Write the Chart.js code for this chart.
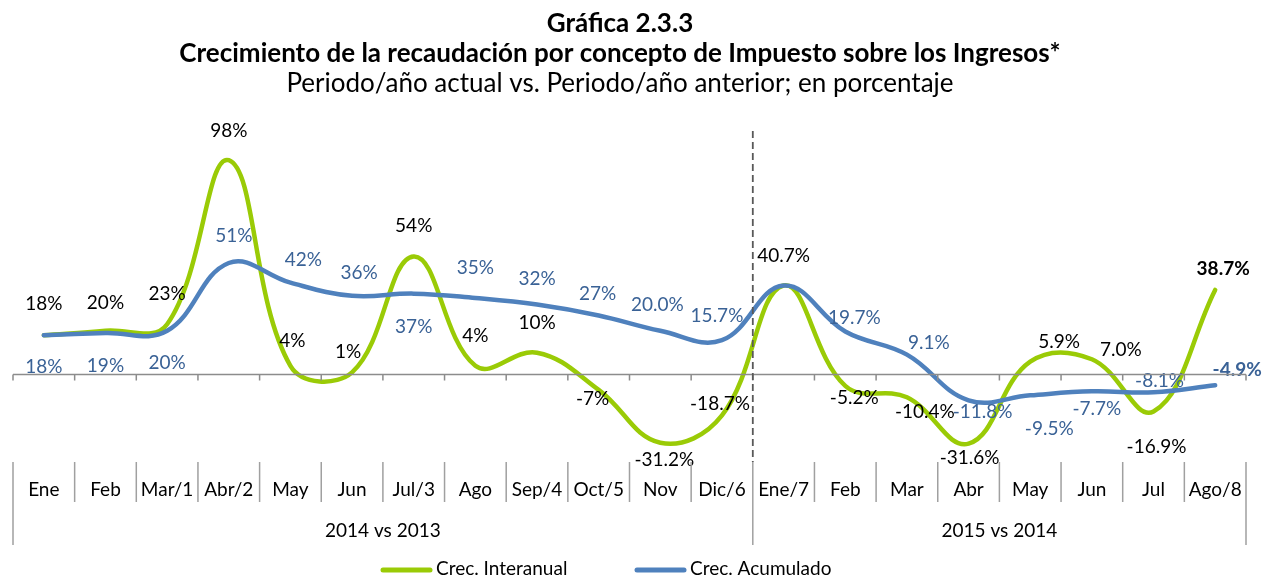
<!DOCTYPE html>
<html>
<head>
<meta charset="utf-8">
<script src="https://cdn.jsdelivr.net/npm/chart.js@4/dist/chart.umd.min.js"></script>
<style>
  html, body { margin: 0; padding: 0; background: #fff; }
  #wrap { width: 1265px; height: 579px; }
</style>
</head>
<body>
<div id="wrap"><canvas id="chart"></canvas></div>
<script>
// Datos de la gráfica
const categories = ['Ene', 'Feb', 'Mar/1', 'Abr/2', 'May', 'Jun', 'Jul/3', 'Ago', 'Sep/4', 'Oct/5', 'Nov', 'Dic/6',
                    'Ene/7', 'Feb', 'Mar', 'Abr', 'May', 'Jun', 'Jul', 'Ago/8'];
const interanual = [18, 20, 23, 98, 4, 1, 54, 4, 10, -7, -31.2, -18.7,
                    40.7, -5.2, -10.4, -31.6, 5.9, 7.0, -16.9, 38.7];
const acumulado = [18, 19, 20, 51, 42, 36, 37, 35, 32, 27, 20.0, 15.7,
                   40.7, 19.7, 9.1, -11.8, -9.5, -7.7, -8.1, -4.9];
// decimales mostrados en cada etiqueta
const decimals = [0, 0, 0, 0, 0, 0, 0, 0, 0, 0, 1, 1, 1, 1, 1, 1, 1, 1, 1, 1];
const groupLabels = ['2014 vs 2013', '2015 vs 2014'];
const groupStart = [0, 12];

const titleLines = ['Gráfica 2.3.3', 'Crecimiento de la recaudación por concepto de Impuesto sobre los Ingresos*'];
const subtitle = 'Periodo/año actual vs. Periodo/año anterior; en porcentaje';

const GREEN = '#9ACB06';
const BLUE = '#4F81BD';
const BLUE_TEXT = '#3A6296';
const FONT = 'Lato, "Open Sans", sans-serif';

// desplazamiento (px) de cada etiqueta respecto a su punto
const greenLabelOffsets = [[0, -31], [0, -28], [0, -30], [0, -29], [2, -25], [-4, -20], [0, -31], [0, -30], [0, -30], [-6, 9],
                           [4, 17], [-2, -12], [0, -30], [9, 12], [18, 15], [1, 14], [29, -20], [29, -9], [3, 35], [8, -21]];
const blueLabelOffsets = [[0, 32], [0, 33], [0, 32], [5, -27], [13, -23], [7, -23], [0, 33], [0, -30], [0, -26], [-1, -22],
                          [-3, -26], [-5, -24], null, [9, -14], [22, -12], [14, 12], [19, 34], [5, 18], [6, -11], [22, -15]];

function fmt(v, i) {
    return v.toFixed(decimals[i]) + '%';
}

const decor = {
    id: 'decor',
    afterDraw(chart) {
        const ctx = chart.ctx;
        const x = chart.scales.x;
        const y = chart.scales.y;
        const area = chart.chartArea;
        const half = (x.getPixelForValue(1) - x.getPixelForValue(0)) / 2;
        const edge = k => x.getPixelForValue(0) - half + k * half * 2;
        const zero = y.getPixelForValue(0);

        ctx.save();

        // titulos
        ctx.fillStyle = '#000';
        ctx.textAlign = 'center';
        ctx.textBaseline = 'alphabetic';
        ctx.font = 'bold 26px ' + FONT;
        ctx.fillText(titleLines[0], 620, 32);
        ctx.fillText(titleLines[1], 620, 62);
        ctx.font = '26px ' + FONT;
        ctx.fillText(subtitle, 620, 92);

        // eje en cero con marcas
        ctx.strokeStyle = '#8C8C8C';
        ctx.lineWidth = 1.5;
        ctx.beginPath();
        ctx.moveTo(edge(0), zero);
        ctx.lineTo(edge(categories.length), zero);
        for (let k = 0; k <= categories.length; k++) {
            ctx.moveTo(edge(k), zero);
            ctx.lineTo(edge(k), zero + 6);
        }
        ctx.stroke();

        // separadores de categorias
        ctx.strokeStyle = '#A0A0A0';
        ctx.beginPath();
        for (let k = 0; k <= categories.length; k++) {
            const long = groupStart.includes(k) || k === categories.length;
            ctx.moveTo(edge(k), area.bottom);
            ctx.lineTo(edge(k), long ? 545 : 502);
        }
        ctx.stroke();

        // linea punteada entre periodos
        ctx.strokeStyle = '#595959';
        ctx.lineWidth = 1.8;
        ctx.setLineDash([7, 4]);
        ctx.beginPath();
        ctx.moveTo(edge(groupStart[1]), 131);
        ctx.lineTo(edge(groupStart[1]), area.bottom);
        ctx.stroke();
        ctx.setLineDash([]);

        // etiquetas de categorias y grupos
        ctx.fillStyle = '#000';
        ctx.font = '19px ' + FONT;
        categories.forEach((c, i) => ctx.fillText(c, x.getPixelForValue(i), 496));
        groupLabels.forEach((g, j) => {
            const from = groupStart[j];
            const to = j + 1 < groupStart.length ? groupStart[j + 1] : categories.length;
            ctx.fillText(g, (edge(from) + edge(to)) / 2, 537);
        });

        // leyenda
        const items = [['Crec. Interanual', GREEN, 383], ['Crec. Acumulado', BLUE, 637]];
        ctx.textAlign = 'left';
        ctx.textBaseline = 'middle';
        ctx.lineCap = 'round';
        items.forEach(([txt, col, lx]) => {
            ctx.strokeStyle = col;
            ctx.lineWidth = 5;
            ctx.beginPath();
            ctx.moveTo(lx, 570);
            ctx.lineTo(lx + 47, 570);
            ctx.stroke();
            ctx.fillStyle = '#000';
            ctx.fillText(txt, lx + 53, 569);
        });

        ctx.restore();
    },
    afterDatasetsDraw(chart) {
        const ctx = chart.ctx;
        ctx.save();
        ctx.textAlign = 'center';
        ctx.textBaseline = 'middle';
        const sets = [[0, interanual, greenLabelOffsets, '#000'], [1, acumulado, blueLabelOffsets, BLUE_TEXT]];
        sets.forEach(([di, values, offsets, col]) => {
            const meta = chart.getDatasetMeta(di);
            values.forEach((v, i) => {
                const off = offsets[i];
                if (!off) return;
                const pt = meta.data[i];
                ctx.fillStyle = col;
                ctx.font = (i === values.length - 1 ? 'bold ' : '') + '19px ' + FONT;
                ctx.fillText(fmt(v, i), pt.x + off[0], pt.y + off[1]);
            });
        });
        ctx.restore();
    }
};

new Chart(document.getElementById('chart'), {
    type: 'line',
    data: {
        labels: categories,
        datasets: [{
            label: 'Crec. Interanual',
            data: interanual,
            borderColor: GREEN,
            backgroundColor: GREEN,
            borderWidth: 4.5,
            tension: 0.4,
            pointRadius: 0,
            borderCapStyle: 'round',
            order: 2
        }, {
            label: 'Crec. Acumulado',
            data: acumulado,
            borderColor: BLUE,
            backgroundColor: BLUE,
            borderWidth: 4.5,
            tension: 0.4,
            pointRadius: 0,
            borderCapStyle: 'round',
            order: 1
        }]
    },
    options: {
        responsive: true,
        maintainAspectRatio: false,
        animation: false,
        layout: {
            padding: { left: 13, right: 19, top: 134, bottom: 117 }
        },
        scales: {
            x: { display: false, offset: true },
            y: { display: false, min: -40, max: 110 }
        },
        plugins: {
            legend: { display: false },
            tooltip: { enabled: false }
        }
    },
    plugins: [decor]
});
</script>
</body>
</html>
